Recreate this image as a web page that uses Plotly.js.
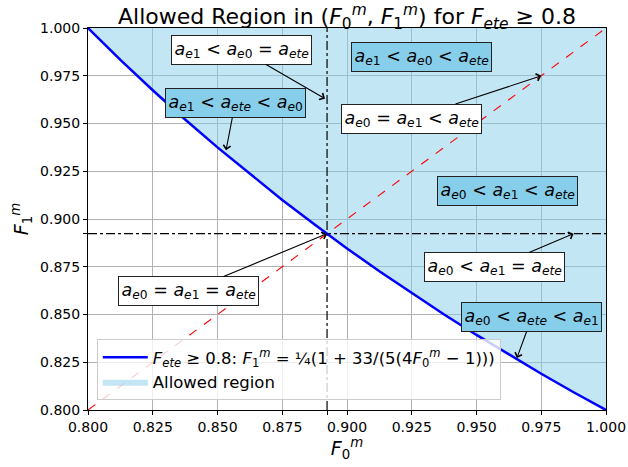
<!DOCTYPE html>
<html>
<head>
<meta charset="utf-8">
<script src="https://cdn.plot.ly/plotly-3.0.1.min.js"></script>
<style>html,body{margin:0;padding:0;background:#fff;}#chart{width:628px;height:467px;}</style>
</head>
<body>
<div id="chart"></div>
<script>
// Boundary curve F1^m vs F0^m
const curveF0 = [0.8000, 0.8125, 0.8250, 0.8375, 0.8500, 0.8625, 0.8750, 0.8875, 0.9000, 0.9125, 0.9250, 0.9375, 0.9500, 0.9625, 0.9750, 0.9875, 1.0000];
const curveF1 = [1.0000, 0.9833, 0.9674, 0.9521, 0.9375, 0.9235, 0.9100, 0.8971, 0.8846, 0.8726, 0.8611, 0.8500, 0.8393, 0.8290, 0.8190, 0.8093, 0.8000];
const topF1 = [1, 1, 1, 1, 1, 1, 1, 1, 1, 1, 1, 1, 1, 1, 1, 1, 1];
// Diagonal F1 = F0
const diagX = [0.8, 1.0];
const diagY = [0.8, 1.0];
// Crossing point of the curve with the diagonal
const crossPoint = 0.8923;
const axisMin = 0.8, axisMax = 1.0;
const tickValues = [0.800, 0.825, 0.850, 0.875, 0.900, 0.925, 0.950, 0.975, 1.000];

// Annotation labels: text, text position, arrow target (null = no arrow), box style
const labelTexts = [
  "a_e1 < a_e0 = a_ete",
  "a_e1 < a_ete < a_e0",
  "a_e1 < a_e0 < a_ete",
  "a_e0 = a_e1 < a_ete",
  "a_e0 < a_e1 < a_ete",
  "a_e0 < a_e1 = a_ete",
  "a_e0 = a_e1 = a_ete",
  "a_e0 < a_ete < a_e1"
];
const labelX = [0.8591, 0.8568, 0.9288, 0.9249, 0.9618, 0.9570, 0.8388, 0.9714];
const labelY = [0.9885, 0.9607, 0.9848, 0.9526, 0.9147, 0.8749, 0.8623, 0.8487];
const arrowX = [0.8915, 0.8533, null, 0.9750, null, 0.9875, 0.8923, 0.9656];
const arrowY = [0.9630, 0.9360, null, 0.9750, null, 0.8923, 0.8923, 0.8272];
const labelBlue = [false, true, true, false, true, false, false, true];

function fmt(s) {
  // convert "a_e1 < a_ete" notation to Plotly rich text
  return s.split(' ').map(tok => {
    if (tok === '<') return '&lt;';
    if (tok === '=') return '=';
    const sub = tok.split('_')[1];
    const subHtml = sub.replace(/[a-z]+/g, m => '<i>' + m + '</i>');
    return '<i>a</i><sub>' + subHtml + '</sub>';
  }).join(' ');
}

const font = "DejaVu Sans, sans-serif";

const traces = [
  {x: curveF0, y: topF1, mode: 'lines', line: {width: 0}, showlegend: false, hoverinfo: 'skip'},
  {x: curveF0, y: curveF1, mode: 'lines', line: {width: 0}, fill: 'tonexty',
   fillcolor: 'rgba(135,206,235,0.5)', name: 'Allowed region', legendrank: 2},
  {x: diagX, y: diagY, mode: 'lines', line: {color: 'red', width: 1.1, dash: 'dash'}, showlegend: false},
  {x: [crossPoint, crossPoint], y: [axisMin, axisMax], mode: 'lines', line: {color: 'black', width: 1.2, dash: 'dashdot'}, showlegend: false},
  {x: [axisMin, axisMax], y: [crossPoint, crossPoint], mode: 'lines', line: {color: 'black', width: 1.2, dash: 'dashdot'}, showlegend: false},
  {x: curveF0, y: curveF1, mode: 'lines', line: {color: 'blue', width: 2.5}, legendrank: 1,
   name: '<i>F</i><sub><i>ete</i></sub> ≥ 0.8: <i>F</i><sub>1</sub><sup><i>m</i></sup> = ¼(1 + 33/(5(4<i>F</i><sub>0</sub><sup><i>m</i></sup> − 1)))'}
];

const annotations = labelTexts.map((t, i) => {
  const a = {
    x: arrowX[i] !== null ? arrowX[i] : labelX[i],
    y: arrowY[i] !== null ? arrowY[i] : labelY[i],
    xref: 'x', yref: 'y',
    text: fmt(t),
    font: {family: font, size: 17.5, color: 'black'},
    bgcolor: labelBlue[i] ? '#87CEEB' : 'white',
    bordercolor: '#222', borderwidth: 1, borderpad: 2.5,
    showarrow: arrowX[i] !== null
  };
  if (arrowX[i] !== null) {
    a.ax = labelX[i]; a.ay = labelY[i]; a.axref = 'x'; a.ayref = 'y';
    a.arrowhead = 4; a.arrowsize = 1.3; a.arrowwidth = 1.1; a.arrowcolor = 'black';
  }
  return a;
});

const axisCommon = {
  range: [axisMin, axisMax],
  tickvals: tickValues,
  tickformat: '.3f',
  showgrid: true, gridcolor: '#b0b0b0', gridwidth: 1,
  zeroline: false, showline: true, linecolor: 'black', linewidth: 1, mirror: true,
  ticks: 'outside', ticklen: 4, tickcolor: 'black',
  tickfont: {family: font, size: 14, color: 'black'},
  minor: {tickvals: [crossPoint], ticks: 'outside', ticklen: 4, tickcolor: 'black', showgrid: false}
};

const layout = {
  width: 628, height: 467,
  margin: {l: 88, r: 22, t: 28, b: 57},
  paper_bgcolor: 'white', plot_bgcolor: 'white',
  font: {family: font, color: 'black'},
  title: {text: 'Allowed Region in (<i>F</i><sub>0</sub><sup><i>m</i></sup>, <i>F</i><sub>1</sub><sup><i>m</i></sup>) for <i>F</i><sub><i>ete</i></sub> ≥ 0.8',
          font: {family: font, size: 22, color: 'black'}, x: 0.5, xanchor: 'center', y: 0.965, yanchor: 'middle', xref: 'paper', yref: 'container'},
  xaxis: Object.assign({}, axisCommon, {title: {text: '<i>F</i><sub>0</sub><sup><i>m</i></sup>', font: {family: font, size: 19}, standoff: 0}}),
  yaxis: Object.assign({}, axisCommon, {title: {text: '<i>F</i><sub>1</sub><sup><i>m</i></sup>', font: {family: font, size: 19}, standoff: 6}}),
  showlegend: true,
  legend: {x: 0.017, y: 0.026, xanchor: 'left', yanchor: 'bottom', bgcolor: 'rgba(255,255,255,0.8)',
           bordercolor: '#cccccc', borderwidth: 1, font: {family: font, size: 16.5, color: 'black'},
           itemwidth: 45, traceorder: 'normal'},
  annotations: annotations
};

Plotly.newPlot('chart', traces, layout, {staticPlot: true, displayModeBar: false});
</script>
</body>
</html>
